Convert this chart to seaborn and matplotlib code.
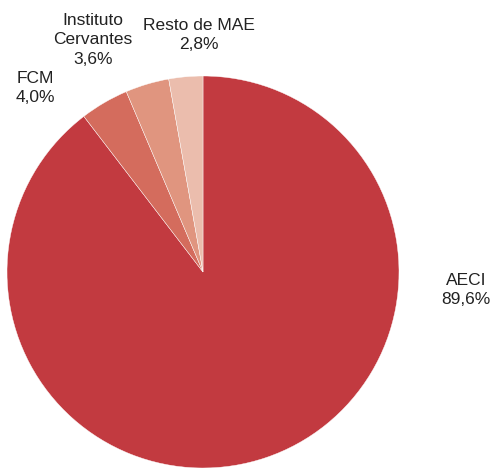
import matplotlib
matplotlib.use('Agg')
import matplotlib.pyplot as plt
import seaborn as sns

sns.set_style('white')
plt.rcParams['font.family'] = ['Liberation Sans', 'DejaVu Sans']

labels = ['AECI', 'FCM', 'Instituto\nCervantes', 'Resto de MAE']
values = [89.6, 4.0, 3.6, 2.8]
colors = ['#C23A40', '#D46C5D', '#E0957F', '#EBBDAD']
# label anchor points (data coords, pie radius = 1)
label_pos = [(1.342, -0.092), (-0.857, 0.939), (-0.561, 1.184), (-0.02, 1.209)]

fig = plt.figure(figsize=(4.97, 4.68), dpi=100)
ax = fig.add_axes([7 / 497, 0, 392 / 497, 392 / 468])
ax.pie(values, colors=colors, startangle=90, counterclock=False, radius=1,
       wedgeprops=dict(edgecolor='white', linewidth=0.3))
ax.set_xlim(-1, 1)
ax.set_ylim(-1, 1)
ax.set_aspect('equal')
ax.axis('off')

for lab, v, (x, y) in zip(labels, values, label_pos):
    txt = f"{lab}\n{v:.1f}%".replace('.', ',')
    ax.text(x, y, txt, ha='center', va='center', fontsize=12.5,
            color='#222222', linespacing=1.35, clip_on=False)

fig.savefig('out.png', dpi=100)
